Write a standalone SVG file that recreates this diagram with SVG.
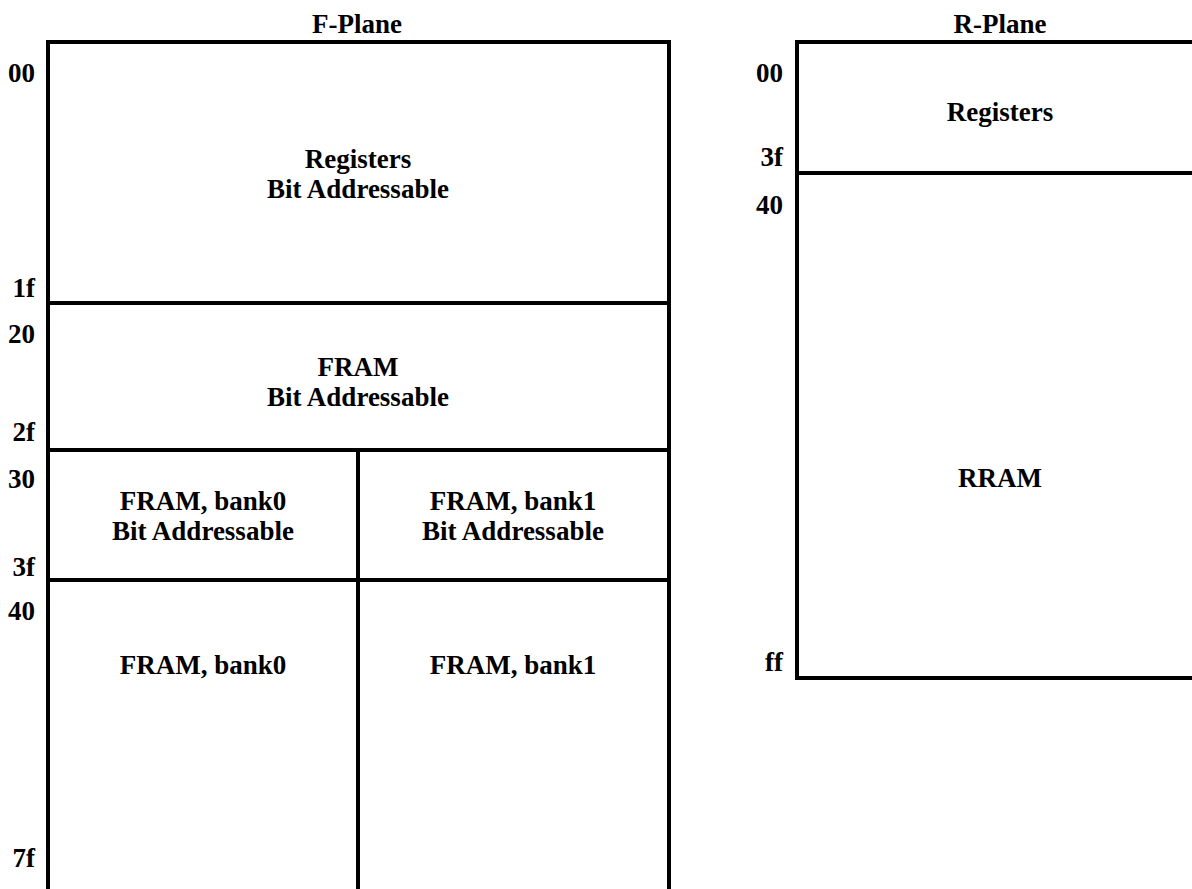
<svg xmlns="http://www.w3.org/2000/svg" width="1192" height="889" viewBox="0 0 1192 889">
  <style>
    .cell { fill: none; stroke: #000; stroke-width: 4; }
    text { font-family: "Liberation Serif", "Times New Roman", serif; font-weight: bold; font-size: 27px; fill: #000; }
    .c { text-anchor: middle; }
    .addr { text-anchor: end; }
  </style>
  <rect width="1192" height="889" fill="#fff"/>

  <!-- F-Plane memory map -->
  <text class="c" x="357" y="33">F-Plane</text>
  <g id="f-registers">
    <rect class="cell" x="48" y="42" width="621" height="261"/>
    <text class="c" x="358" y="168">Registers</text>
    <text class="c" x="358" y="198">Bit Addressable</text>
  </g>
  <g id="f-fram">
    <rect class="cell" x="48" y="303" width="621" height="147"/>
    <text class="c" x="358" y="376">FRAM</text>
    <text class="c" x="358" y="406">Bit Addressable</text>
  </g>
  <g id="f-fram-bank0-bit">
    <rect class="cell" x="48" y="450" width="310" height="130"/>
    <text class="c" x="203" y="510">FRAM, bank0</text>
    <text class="c" x="203" y="540">Bit Addressable</text>
  </g>
  <g id="f-fram-bank1-bit">
    <rect class="cell" x="358" y="450" width="311" height="130"/>
    <text class="c" x="513" y="510">FRAM, bank1</text>
    <text class="c" x="513" y="540">Bit Addressable</text>
  </g>
  <g id="f-fram-bank0">
    <rect class="cell" x="48" y="580" width="310" height="320"/>
    <text class="c" x="203" y="674">FRAM, bank0</text>
  </g>
  <g id="f-fram-bank1">
    <rect class="cell" x="358" y="580" width="311" height="320"/>
    <text class="c" x="513" y="674">FRAM, bank1</text>
  </g>
  <g id="f-addresses">
    <text class="addr" x="35" y="82">00</text>
    <text class="addr" x="35" y="297">1f</text>
    <text class="addr" x="35" y="343">20</text>
    <text class="addr" x="35" y="441">2f</text>
    <text class="addr" x="35" y="488">30</text>
    <text class="addr" x="35" y="576">3f</text>
    <text class="addr" x="35" y="620">40</text>
    <text class="addr" x="35" y="867">7f</text>
  </g>

  <!-- R-Plane memory map -->
  <text class="c" x="1000" y="33">R-Plane</text>
  <g id="r-registers">
    <rect class="cell" x="797" y="42" width="406" height="131"/>
    <text class="c" x="1000" y="121">Registers</text>
  </g>
  <g id="r-rram">
    <rect class="cell" x="797" y="173" width="406" height="505"/>
    <text class="c" x="1000" y="487">RRAM</text>
  </g>
  <g id="r-addresses">
    <text class="addr" x="783" y="82">00</text>
    <text class="addr" x="783" y="166">3f</text>
    <text class="addr" x="783" y="214">40</text>
    <text class="addr" x="783" y="671">ff</text>
  </g>

  <!-- no connectors in this diagram -->
  <g id="connectors"/>
</svg>
